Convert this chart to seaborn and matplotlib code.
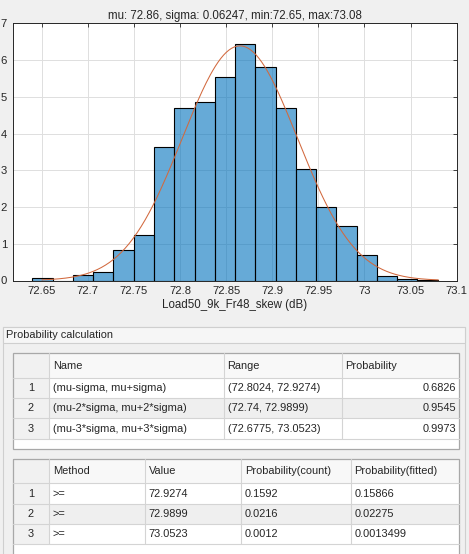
import matplotlib
matplotlib.use("Agg")
import matplotlib.pyplot as plt
from matplotlib.patches import Rectangle
import numpy as np
import pandas as pd
import seaborn as sns

# histogram (20 bins, counts per bin)
bin_edges = np.linspace(72.6399, 73.0793, 21)
bin_counts = [3, 0, 8, 12, 45, 67, 199, 256, 265, 303,
              352, 318, 256, 166, 109, 81, 38, 7, 2, 1]
mu = 72.8649
sigma = 0.06247
data_min = 72.65
data_max = 73.08
x_label = "Load50_9k_Fr48_skew (dB)"
title = "mu: 72.86, sigma: 0.06247, min:72.65, max:73.08"
x_ticks = [72.65, 72.7, 72.75, 72.8, 72.85, 72.9, 72.95, 73, 73.05, 73.1]
x_tick_labels = ["72.65", "72.7", "72.75", "72.8", "72.85", "72.9", "72.95", "73", "73.05", "73.1"]

# tables
panel_title = "Probability calculation"
t1_header = ["", "Name", "Range", "Probability"]
t1_names = ["(mu-sigma, mu+sigma)", "(mu-2*sigma, mu+2*sigma)", "(mu-3*sigma, mu+3*sigma)"]
t1_ranges = ["(72.8024, 72.9274)", "(72.74, 72.9899)", "(72.6775, 73.0523)"]
t1_probs = ["0.6826", "0.9545", "0.9973"]
t2_header = ["", "Method", "Value", "Probability(count)", "Probability(fitted)"]
t2_method = [">=", ">=", ">="]
t2_value = ["72.9274", "72.9899", "73.0523"]
t2_pcount = ["0.1592", "0.0216", "0.0012"]
t2_pfit = ["0.15866", "0.02275", "0.0013499"]

sns.set_style("whitegrid")
plt.rcParams['font.family'] = ['Liberation Sans', 'DejaVu Sans']
txt = '#262626'
fs = 7.9      # table text
fs_tick = 8.1
fs_lab = 8.3

W, H = 469, 554
fig = plt.figure(figsize=(W / 100, H / 100), dpi=100)
fig.patch.set_facecolor('#F0F0F0')

# overlay in pixel coords for the panel / tables
ov = fig.add_axes([0, 0, 1, 1])
ov.set_xlim(0, W)
ov.set_ylim(H, 0)
ov.axis('off')
ov.patch.set_alpha(0)

def rect(x0, y0, x1, y1, fc='none', ec='none', lw=0.8):
    ov.add_patch(Rectangle((x0, y0), x1 - x0, y1 - y0, facecolor=fc, edgecolor=ec, lw=lw))

# panel
rect(3, 327, 465, 570, fc='#F0F0F0', ec='#CFCFCF')
rect(3, 327, 465, 343, fc='#F6F6F6', ec='#CFCFCF')
ov.text(6, 335.5, panel_title, fontsize=fs, color=txt, va='center', ha='left')

def draw_table(x_cols, y_rows, bottom, header, rows, right_align):
    x0, x1 = x_cols[0], x_cols[-1]
    rect(x0, y_rows[0], x1, bottom, fc='white')
    # header row
    rect(x0, y_rows[0], x1, y_rows[1], fc='#F8F8F8')
    for i in range(len(rows)):
        if i == 1:
            rect(x0, y_rows[i + 1], x1, y_rows[i + 2], fc='#EFEFEF')
    # index column
    rect(x0, y_rows[0], x_cols[1], y_rows[-1], fc='#F1F1F1')
    # grid
    for xc in x_cols[1:-1]:
        ov.plot([xc, xc], [y_rows[0], y_rows[-1]], color='#D4D4D4', lw=0.8)
    for yr in y_rows[1:]:
        ov.plot([x0, x1], [yr, yr], color='#D4D4D4', lw=0.8)
    rect(x0, y_rows[0], x1, bottom, ec='#A8A8A8', lw=0.9)
    # header text
    yc = (y_rows[0] + y_rows[1]) / 2
    for j, h in enumerate(header[1:], start=1):
        ov.text(x_cols[j] + 3.5, yc, h, fontsize=fs, color=txt, va='center', ha='left')
    for i, row in enumerate(rows):
        yc = (y_rows[i + 1] + y_rows[i + 2]) / 2
        ov.text((x_cols[0] + x_cols[1]) / 2, yc, str(i + 1), fontsize=fs, color=txt,
                va='center', ha='center')
        for j, val in enumerate(row, start=1):
            if right_align[j - 1]:
                ov.text(x_cols[j + 1] - 3, yc, val, fontsize=fs, color=txt, va='center', ha='right')
            else:
                ov.text(x_cols[j] + 3.5, yc, val, fontsize=fs, color=txt, va='center', ha='left')

t1_rows = list(zip(t1_names, t1_ranges, t1_probs))
draw_table([12.7, 49.3, 224, 341.7, 459.3], [353.3, 378.3, 398.3, 418.3, 439], 449.3,
           t1_header, t1_rows, [False, False, True])

t2_rows = list(zip(t2_method, t2_value, t2_pcount, t2_pfit))
draw_table([12.7, 49.3, 145.3, 241.3, 351, 459.3], [459, 483.3, 504, 524, 544], 570,
           t2_header, t2_rows, [False, False, False, False])

# histogram axes
ax = fig.add_axes([12.7 / W, 1 - 280.5 / H, (456.7 - 12.7) / W, (280.5 - 23.3) / H])
ax.set_facecolor('white')
hist = pd.DataFrame({'x': (bin_edges[:-1] + bin_edges[1:]) / 2, 'w': bin_counts})
sns.histplot(data=hist, x='x', weights='w', bins=list(bin_edges), stat='density',
             color='#0072BD', alpha=0.6, edgecolor='black', linewidth=0.8, ax=ax)

xs = np.linspace(data_min, data_max, 300)
fit = pd.DataFrame({'x': xs,
                    'y': np.exp(-0.5 * ((xs - mu) / sigma) ** 2) / (sigma * np.sqrt(2 * np.pi))})
sns.lineplot(data=fit, x='x', y='y', color='#D2693E', lw=0.75, ax=ax)

ax.set_xlim(72.6185, 73.1)
ax.set_ylim(0, 7)
ax.set_xticks(x_ticks)
ax.set_xticklabels(x_tick_labels)
ax.set_yticks(range(8))
ax.grid(True, color='#DEDEDE', lw=0.7)
ax.set_axisbelow(True)
ax.tick_params(direction='in', top=True, right=True, length=3, width=0.6,
               colors=txt, labelsize=fs_tick, pad=4)
for s in ax.spines.values():
    s.set_color(txt)
    s.set_linewidth(0.7)
ax.set_xlabel(x_label, fontsize=fs_lab, color=txt, labelpad=2)
ax.set_ylabel('')
ax.set_title(title, fontsize=fs_lab, color=txt, pad=3)

fig.savefig('out.png', dpi=100, facecolor=fig.get_facecolor())
